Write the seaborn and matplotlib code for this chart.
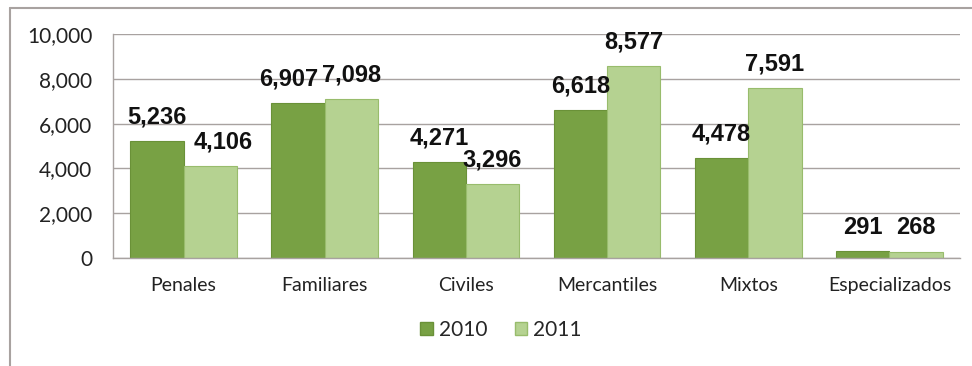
import matplotlib
matplotlib.use("Agg")
import matplotlib.pyplot as plt
import seaborn as sns
import pandas as pd
from matplotlib.lines import Line2D
from matplotlib.patches import Patch

categories = ["Penales", "Familiares", "Civiles", "Mercantiles", "Mixtos", "Especializados"]
years = ["2010", "2011"]
values_2010 = [5236, 6907, 4271, 6618, 4478, 291]
values_2011 = [4106, 7098, 3296, 8577, 7591, 268]
y_ticks = [0, 2000, 4000, 6000, 8000, 10000]

# horizontal nudges (points) of the value labels, as placed in the original chart
label_dx = {"2010": [0, -6.5, 0, 0, 0, 0], "2011": [9.5, 0, 0, 0, 0, 0]}

df = pd.DataFrame({
    "Categoria": categories * 2,
    "Año": [years[0]] * len(categories) + [years[1]] * len(categories),
    "Valor": values_2010 + values_2011,
})

sns.set_theme(style="white")
plt.rcParams["font.family"] = ["Lato", "DejaVu Sans"]

colors = {"2010": "#78a144", "2011": "#b5d291"}
edges = {"2010": "#6a9138", "2011": "#98bc6c"}
grid_c = "#a8a2a0"

fig = plt.figure(figsize=(9.72, 3.66), dpi=100)
ax = fig.add_axes([113 / 972, 1 - 258 / 366, (960 - 113) / 972, (258 - 34) / 366])

sns.barplot(data=df, x="Categoria", y="Valor", hue="Año", palette=colors,
            width=0.755, gap=0, ax=ax, legend=False, saturation=1)

for container, yr in zip(ax.containers, years):
    for i, bar in enumerate(container):
        bar.set_edgecolor(edges[yr])
        bar.set_linewidth(0.8)
        h = bar.get_height()
        ax.annotate(f"{int(round(h)):,}",
                    xy=(bar.get_x() + bar.get_width() / 2, h),
                    xytext=(label_dx[yr][i], 9), textcoords="offset points",
                    ha="center", va="bottom", fontsize=17, fontweight="bold",
                    family=["Liberation Sans", "DejaVu Sans"], color="#111111")

ax.set_ylim(0, 10000)
ax.set_xlim(-0.5, len(categories) - 0.5)
ax.set_yticks(y_ticks)
ax.set_yticklabels([f"{v:,}" for v in y_ticks], fontsize=15, color="#222222")
ax.set_xticks(range(len(categories)))
ax.set_xticklabels(categories, fontsize=14, color="#222222")
ax.set_xticks([i - 0.5 for i in range(len(categories) + 1)], minor=True)
ax.tick_params(axis="x", which="major", length=0, pad=14)
ax.tick_params(axis="x", which="minor", length=5, width=1, color=grid_c, direction="out")
ax.tick_params(axis="y", which="major", length=6, width=1, color=grid_c, direction="out", pad=9)
ax.set_xlabel("")
ax.set_ylabel("")

ax.yaxis.grid(True, color=grid_c, linewidth=1)
ax.set_axisbelow(True)
for s in ["top", "right"]:
    ax.spines[s].set_visible(False)
for s in ["left", "bottom"]:
    ax.spines[s].set_color(grid_c)
    ax.spines[s].set_linewidth(1)

handles = [Patch(facecolor=colors[y], edgecolor=edges[y], label=y) for y in years]
fig.legend(handles=handles, loc="center", bbox_to_anchor=(501 / 972, 1 - 330 / 366),
           ncol=2, frameon=False, fontsize=15, handlelength=0.6, handleheight=0.6,
           handletextpad=0.3, columnspacing=1.3)

# outer chart frame
fig.add_artist(Line2D([10 / 972, 10 / 972], [0, 1 - 8 / 366], transform=fig.transFigure,
                      color=grid_c, linewidth=1.5))
fig.add_artist(Line2D([10 / 972, 1], [1 - 8 / 366, 1 - 8 / 366], transform=fig.transFigure,
                      color=grid_c, linewidth=1.5))

fig.savefig("out.png", dpi=100, facecolor="white")
